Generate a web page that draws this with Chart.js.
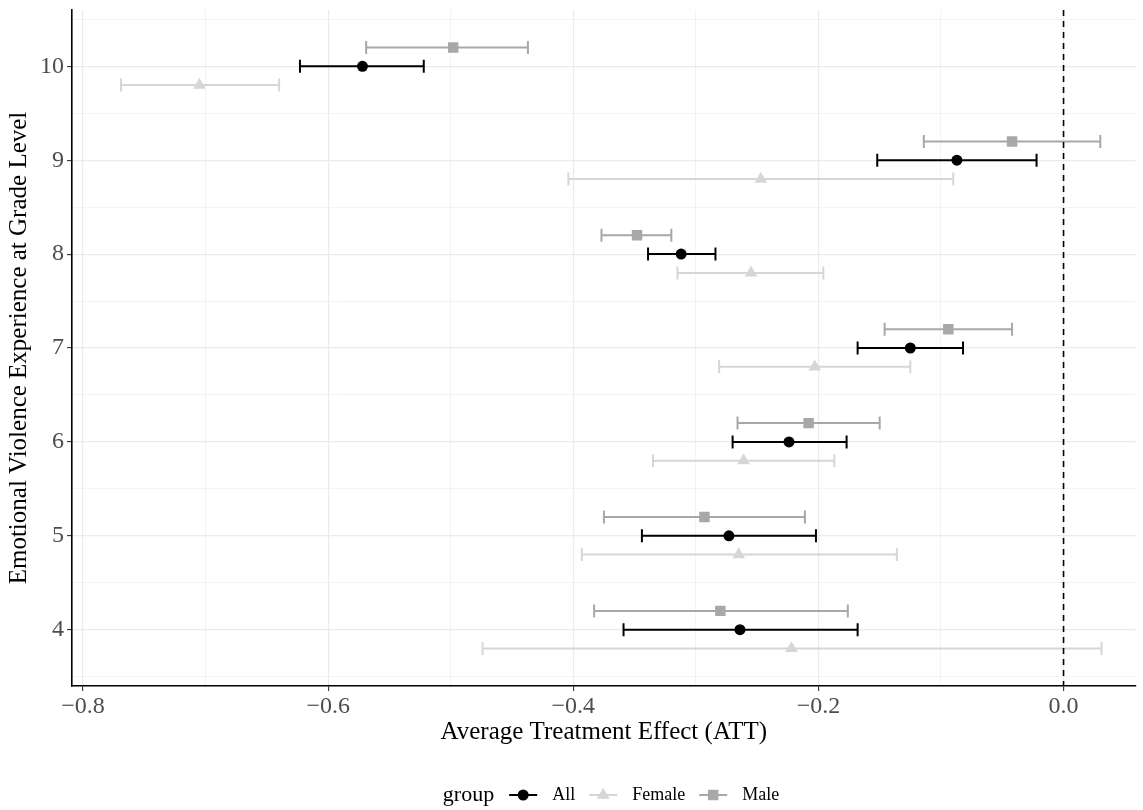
<!DOCTYPE html>
<html>
<head>
<meta charset="utf-8">
<script src="https://cdn.jsdelivr.net/npm/chart.js@4.4.1/dist/chart.umd.min.js"></script>
<style>
  html, body { margin: 0; padding: 0; background: #fff; overflow: hidden; }
  #wrap { width: 1143px; height: 810px; position: relative; }
  canvas { display: block; }
</style>
</head>
<body>
<div id="wrap"><canvas id="chart"></canvas></div>
<script>
const grades = [4, 5, 6, 7, 8, 9, 10];

const allEst = [-0.264, -0.273, -0.224, -0.125, -0.312, -0.087, -0.572];
const allLow = [-0.359, -0.344, -0.270, -0.168, -0.339, -0.152, -0.623];
const allHigh = [-0.168, -0.202, -0.177, -0.082, -0.284, -0.022, -0.522];

const femaleEst = [-0.222, -0.265, -0.261, -0.203, -0.255, -0.247, -0.705];
const femaleLow = [-0.474, -0.393, -0.335, -0.281, -0.315, -0.404, -0.769];
const femaleHigh = [0.031, -0.136, -0.187, -0.125, -0.196, -0.090, -0.640];

const maleEst = [-0.280, -0.293, -0.208, -0.094, -0.348, -0.042, -0.498];
const maleLow = [-0.383, -0.375, -0.266, -0.146, -0.377, -0.114, -0.569];
const maleHigh = [-0.176, -0.211, -0.150, -0.042, -0.320, 0.030, -0.437];

const xTicks = [-0.8, -0.6, -0.4, -0.2, 0.0];
const yTicks = [4, 5, 6, 7, 8, 9, 10];

const serif = '"Liberation Serif", "DejaVu Serif", serif';

// vertical dodge per group
const dodge = { All: 0, Female: -0.2, Male: 0.2 };

const X_MIN = -0.809, X_MAX = 0.0588;
const Y_MIN = 3.4, Y_MAX = 10.6;

function makePoints(est, low, high, off) {
  return grades.map((g, i) => ({ x: est[i], y: g + off, lo: low[i], hi: high[i] }));
}

// major ticks plus the in-between minor grid lines, kept inside the range
function withMinor(major, lo, hi) {
  const step = major[1] - major[0];
  const out = [];
  for (let i = -1; i < major.length; i++) {
    const v = major[0] + i * step;
    if (i >= 0) out.push(major[i]);
    out.push(+(v + step / 2).toFixed(4));
  }
  return out.filter(v => v >= lo && v <= hi).sort((a, b) => a - b);
}

const isMajor = (list, v) => list.some(t => Math.abs(t - v) < 1e-6);
const fmt = v => (v < 0 ? '\u2212' : '') + Math.abs(v).toFixed(1);

// keep the panel edges where the layout padding puts them
function noLabelPadding(s) {
  s.paddingTop = 0;
  s.paddingBottom = 0;
  s.paddingLeft = 0;
  s.paddingRight = 0;
}

const errorBars = {
  id: 'errorBars',
  beforeDatasetsDraw(chart) {
    const { ctx, scales: { x, y } } = chart;
    ctx.save();
    chart.data.datasets.forEach((ds) => {
      ctx.strokeStyle = ds.backgroundColor;
      ctx.lineWidth = 2;
      ds.data.forEach((p) => {
        const py = y.getPixelForValue(p.y);
        const x0 = x.getPixelForValue(p.lo);
        const x1 = x.getPixelForValue(p.hi);
        ctx.beginPath();
        ctx.moveTo(x0, py);
        ctx.lineTo(x1, py);
        ctx.moveTo(x0, py - 6.5);
        ctx.lineTo(x0, py + 6.5);
        ctx.moveTo(x1, py - 6.5);
        ctx.lineTo(x1, py + 6.5);
        ctx.stroke();
      });
    });
    ctx.restore();
  },
  afterDatasetsDraw(chart) {
    const { ctx, chartArea: a, scales: { x } } = chart;
    const zx = x.getPixelForValue(0);
    ctx.save();
    ctx.strokeStyle = '#000';
    ctx.lineWidth = 1.6;
    ctx.setLineDash([6, 5]);
    ctx.beginPath();
    ctx.moveTo(zx, a.top);
    ctx.lineTo(zx, a.bottom);
    ctx.stroke();
    ctx.restore();
  }
};

const groupLegend = {
  id: 'groupLegend',
  afterDraw(chart) {
    const ctx = chart.ctx;
    const y = 795;
    ctx.save();
    ctx.textBaseline = 'middle';
    ctx.fillStyle = '#000';
    ctx.font = '22px ' + serif;
    const titleW = ctx.measureText('group').width;
    ctx.font = '18px ' + serif;
    const items = chart.data.datasets.map(ds => ({ ds, w: ctx.measureText(ds.label).width }));
    const lineLen = 28, gap1 = 15, gap2 = 15, gap3 = 14;
    let total = titleW + gap1;
    items.forEach(it => { total += lineLen + gap2 + it.w + gap3; });
    total -= gap3;
    let cx = 611 - total / 2;

    ctx.font = '22px ' + serif;
    ctx.fillText('group', cx, y);
    cx += titleW + gap1;
    ctx.font = '18px ' + serif;
    items.forEach(({ ds, w }) => {
      ctx.strokeStyle = ds.backgroundColor;
      ctx.fillStyle = ds.backgroundColor;
      ctx.lineWidth = 2;
      ctx.beginPath();
      ctx.moveTo(cx, y);
      ctx.lineTo(cx + lineLen, y);
      ctx.stroke();
      Chart.helpers.drawPoint(ctx, {
        pointStyle: ds.pointStyle, radius: ds.pointRadius, rotation: 0, borderWidth: 0
      }, cx + lineLen / 2, y);
      cx += lineLen + gap2;
      ctx.fillStyle = '#000';
      ctx.fillText(ds.label, cx, y);
      cx += w + gap3;
    });
    ctx.restore();
  }
};

new Chart(document.getElementById('chart'), {
  type: 'scatter',
  data: {
    datasets: [
      {
        label: 'All',
        data: makePoints(allEst, allLow, allHigh, dodge.All),
        backgroundColor: '#000000',
        pointStyle: 'circle',
        pointRadius: 5.5,
        pointBorderWidth: 0
      },
      {
        label: 'Female',
        data: makePoints(femaleEst, femaleLow, femaleHigh, dodge.Female),
        backgroundColor: '#D6D6D6',
        pointStyle: 'triangle',
        pointRadius: 7.3,
        pointBorderWidth: 0
      },
      {
        label: 'Male',
        data: makePoints(maleEst, maleLow, maleHigh, dodge.Male),
        backgroundColor: '#A8A8A8',
        pointStyle: 'rect',
        pointRadius: 7.4,
        pointBorderWidth: 0
      }
    ]
  },
  options: {
    responsive: true,
    maintainAspectRatio: false,
    animation: false,
    layout: { padding: { top: 10, right: 2, left: 0, bottom: 59 } },
    plugins: { legend: { display: false }, tooltip: { enabled: false } },
    scales: {
      x: {
        type: 'linear',
        min: X_MIN,
        max: X_MAX,
        afterBuildTicks: (s) => { s.ticks = withMinor(xTicks, X_MIN, X_MAX).map(v => ({ value: v })); },
        afterFit: (s) => { s.height = 65; noLabelPadding(s); },
        border: { display: true, color: '#000', width: 1.6 },
        grid: {
          color: '#EBEBEB',
          lineWidth: (c) => isMajor(xTicks, c.tick.value) ? 1.2 : 0.6,
          tickLength: 5,
          tickColor: (c) => isMajor(xTicks, c.tick.value) ? '#333' : 'rgba(0,0,0,0)',
          tickWidth: 1.1
        },
        ticks: {
          autoSkip: false,
          maxRotation: 0,
          padding: 1,
          color: '#4D4D4D',
          font: { family: serif, size: 24 },
          callback: (v) => isMajor(xTicks, v) ? fmt(v) : ''
        },
        title: {
          display: true,
          text: 'Average Treatment Effect (ATT)',
          color: '#000',
          font: { family: serif, size: 25 },
          padding: { top: 0, bottom: 4 }
        }
      },
      y: {
        type: 'linear',
        min: Y_MIN,
        max: Y_MAX,
        afterBuildTicks: (s) => { s.ticks = withMinor(yTicks, Y_MIN, Y_MAX).map(v => ({ value: v })); },
        afterFit: (s) => { s.width = 72; noLabelPadding(s); },
        border: { display: true, color: '#000', width: 1.6 },
        grid: {
          color: '#EBEBEB',
          lineWidth: (c) => isMajor(yTicks, c.tick.value) ? 1.2 : 0.6,
          tickLength: 5,
          tickColor: (c) => isMajor(yTicks, c.tick.value) ? '#333' : 'rgba(0,0,0,0)',
          tickWidth: 1.1
        },
        ticks: {
          autoSkip: false,
          padding: 3,
          color: '#4D4D4D',
          font: { family: serif, size: 24 },
          callback: (v) => isMajor(yTicks, v) ? String(v) : ''
        },
        title: {
          display: true,
          text: 'Emotional Violence Experience at Grade Level',
          color: '#000',
          font: { family: serif, size: 25 },
          padding: { top: 4, bottom: 0 }
        }
      }
    }
  },
  plugins: [errorBars, groupLegend]
});
</script>
</body>
</html>
